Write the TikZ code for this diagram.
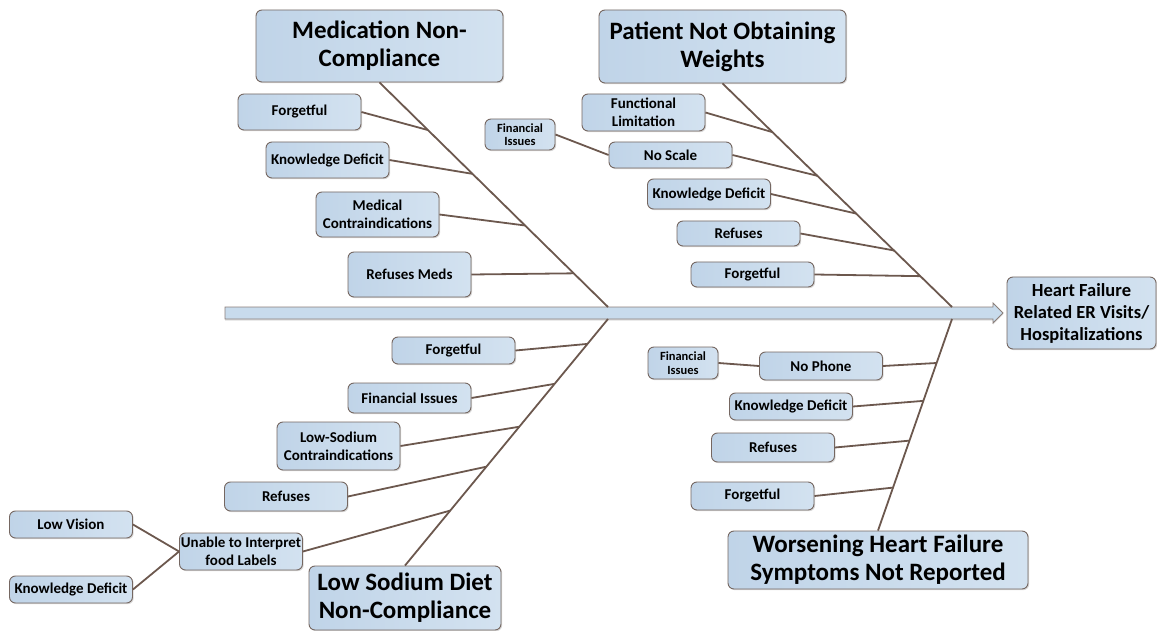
\documentclass[tikz,border=0pt]{standalone}
\usepackage{fontspec}
\setmainfont{Carlito}
\definecolor{fbboxa}{RGB}{192,212,232}
\definecolor{fbboxb}{RGB}{211,226,240}
\definecolor{fbedge}{RGB}{117,103,97}
\definecolor{fbline}{RGB}{108,88,78}
\definecolor{fbspine}{RGB}{200,219,236}
\usetikzlibrary{calc,shadows}

\begin{document}
\begin{tikzpicture}[x=1pt,y=-1pt,
  fishbox/.style={draw=fbedge,line width=0.9pt,rounded corners=6pt,left color=fbboxa,right color=fbboxb,
    drop shadow={shadow xshift=1.2pt,shadow yshift=-1.2pt,fill=black!30},align=center,inner sep=1pt},
  fishhead/.style={fishbox,font=\fontsize{25}{28}\selectfont\bfseries},
  fishcause/.style={fishbox,minimum width=123pt,font=\fontsize{15}{18}\selectfont\bfseries},
  fishsmall/.style={fishbox,minimum width=70pt,minimum height=31pt,font=\fontsize{12.5}{13.5}\selectfont\bfseries},
  fishline/.style={draw=fbline,line width=1.8pt}
]
  \useasboundingbox (0,0) rectangle (1157,631);
  % Spine
  \coordinate (tail) at (225,313);
  \coordinate (tip) at (1003,313);
  \filldraw[fill=fbspine,draw=fbedge!85,line width=0.8pt,drop shadow={shadow xshift=0pt,shadow yshift=-1.5pt,fill=black!25}]
    ($(tail)+(0,-6)$) -- ($(tip)+(-10,-6)$) -- ($(tip)+(-10,-10)$) -- (tip)
    -- ($(tip)+(-10,10)$) -- ($(tip)+(-10,6)$) -- ($(tail)+(0,6)$) -- cycle;
  \coordinate (mj) at (608,307);
  \coordinate (pj) at (952,307);
  \coordinate (sj) at (608,319);
  \coordinate (wj) at (952,319);
  % Effect and category boxes
  \node[fishbox,font=\fontsize{18.5}{22}\selectfont\bfseries,minimum width=149pt,minimum height=72pt] (effect) at (1081.5,313) {Heart Failure\\Related ER Visits/\\Hospitalizations};
  \node[fishhead,minimum width=247pt,minimum height=72pt] (med) at (379.5,46) {Medication Non-\\Compliance};
  \node[fishhead,minimum width=247pt,minimum height=73pt] (pat) at (722.5,46.5) {Patient Not Obtaining\\Weights};
  \node[fishhead,minimum width=192pt,minimum height=64pt] (sod) at (405,598) {Low Sodium Diet\\Non-Compliance};
  \node[fishhead,minimum width=300pt,minimum height=58pt] (wor) at (878,560) {Worsening Heart Failure\\Symptoms Not Reported};
  % Medication causes
  \node[fishcause,minimum height=36pt] (mforget) at (299.5,112) {Forgetful};
  \node[fishcause,minimum height=36pt] (mknow) at (327.5,160) {Knowledge Deficit};
  \node[fishcause,minimum height=45pt] (mcontra) at (377.5,214.5) {Medical\\Contraindications};
  \node[fishcause,minimum height=45pt] (mrefuse) at (409.5,274.5) {Refuses Meds};
  % Weight causes
  \node[fishcause,minimum height=37pt] (pfunc) at (643.5,112.5) {Functional\\Limitation};
  \node[fishcause,minimum height=26pt] (pscale) at (670.5,155) {No Scale};
  \node[fishsmall] (pfin) at (520,134.5) {Financial\\Issues};
  \node[fishcause,minimum height=30pt] (pknow) at (709,194) {Knowledge Deficit};
  \node[fishcause,minimum height=25pt] (prefuse) at (738.5,233.5) {Refuses};
  \node[fishcause,minimum height=25pt] (pforget) at (752.5,274.5) {Forgetful};
  % Sodium causes
  \node[fishcause,minimum height=27pt] (sforget) at (453.5,350.5) {Forgetful};
  \node[fishcause,minimum height=30pt] (sfin) at (409.5,398) {Financial Issues};
  \node[fishcause,minimum height=48pt] (scontra) at (338.5,446) {Low-Sodium\\Contraindications};
  \node[fishcause,minimum height=29pt] (srefuse) at (286,496.5) {Refuses};
  \node[fishcause,minimum height=37pt] (slabel) at (241,551.5) {Unable to Interpret\\food Labels};
  \node[fishcause,minimum height=27pt] (svision) at (71,524.5) {Low Vision};
  \node[fishcause,minimum height=27pt] (sknow) at (71,589.5) {Knowledge Deficit};
  % Symptom causes
  \node[fishcause,minimum height=28pt] (wphone) at (821,366) {No Phone};
  \node[fishsmall,minimum height=32pt] (wfin) at (683,363) {Financial\\Issues};
  \node[fishcause,minimum height=27pt] (wknow) at (791,406.5) {Knowledge Deficit};
  \node[fishcause,minimum height=29pt] (wrefuse) at (773,447.5) {Refuses};
  \node[fishcause,minimum height=28pt] (wforget) at (752.5,496) {Forgetful};
  % Main bones
  \draw[fishline] (med.south) -- (mj);
  \draw[fishline] (pat.south) -- (pj);
  \draw[fishline] (sod.north) -- (sj);
  \draw[fishline] (wor.north) -- (wj);
  \coordinate (m1) at ($(med.south)!0.212!(mj)$);
  \coordinate (m2) at ($(med.south)!0.407!(mj)$);
  \coordinate (m3) at ($(med.south)!0.637!(mj)$);
  \coordinate (m4) at ($(med.south)!0.85!(mj)$);
  \coordinate (p1) at ($(pat.south)!0.218!(pj)$);
  \coordinate (p2) at ($(pat.south)!0.413!(pj)$);
  \coordinate (p3) at ($(pat.south)!0.582!(pj)$);
  \coordinate (p4) at ($(pat.south)!0.747!(pj)$);
  \coordinate (p5) at ($(pat.south)!0.862!(pj)$);
  \coordinate (s1) at ($(sj)!0.101!(sod.north)$);
  \coordinate (s2) at ($(sj)!0.263!(sod.north)$);
  \coordinate (s3) at ($(sj)!0.437!(sod.north)$);
  \coordinate (s4) at ($(sj)!0.599!(sod.north)$);
  \coordinate (s5) at ($(sj)!0.777!(sod.north)$);
  \coordinate (w1) at ($(wj)!0.208!(wor.north)$);
  \coordinate (w2) at ($(wj)!0.387!(wor.north)$);
  \coordinate (w3) at ($(wj)!0.575!(wor.north)$);
  \coordinate (w4) at ($(wj)!0.797!(wor.north)$);
  % Cause lines
  \draw[fishline] (mforget.east) -- (m1);
  \draw[fishline] (mknow.east) -- (m2);
  \draw[fishline] (mcontra.east) -- (m3);
  \draw[fishline] (mrefuse.east) -- (m4);
  \draw[fishline] (pfunc.east) -- (p1);
  \draw[fishline] (pscale.east) -- (p2);
  \draw[fishline] (pfin.east) -- (pscale.west);
  \draw[fishline] (pknow.east) -- (p3);
  \draw[fishline] (prefuse.east) -- (p4);
  \draw[fishline] (pforget.east) -- (p5);
  \draw[fishline] (sforget.east) -- (s1);
  \draw[fishline] (sfin.east) -- (s2);
  \draw[fishline] (scontra.east) -- (s3);
  \draw[fishline] (srefuse.east) -- (s4);
  \draw[fishline] (slabel.east) -- (s5);
  \draw[fishline] (svision.east) -- (slabel.west);
  \draw[fishline] (sknow.east) -- (slabel.west);
  \draw[fishline] (wphone.east) -- (w1);
  \draw[fishline] (wfin.east) -- (wphone.west);
  \draw[fishline] (wknow.east) -- (w2);
  \draw[fishline] (wrefuse.east) -- (w3);
  \draw[fishline] (wforget.east) -- (w4);
\end{tikzpicture}
\end{document}
